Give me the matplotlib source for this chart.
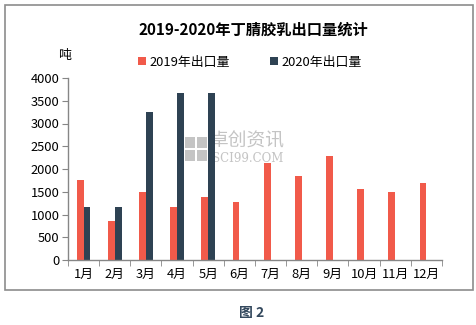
import matplotlib
matplotlib.use("Agg")
import matplotlib.pyplot as plt
from matplotlib.patches import Rectangle
import numpy as np

plt.rcParams['font.family'] = ['Noto Sans CJK SC', 'DejaVu Sans']

months = ["1月", "2月", "3月", "4月", "5月", "6月", "7月", "8月", "9月", "10月", "11月", "12月"]
export_2019 = [1760, 860, 1490, 1165, 1385, 1275, 2130, 1845, 2285, 1560, 1495, 1690]
export_2020 = [1170, 1170, 3250, 3670, 3670, np.nan, np.nan, np.nan, np.nan, np.nan, np.nan, np.nan]

red = "#F15A4A"
dark = "#2E4253"
gray = "#868686"

fig = plt.figure(figsize=(4.77, 3.25), dpi=100)
fig.patch.set_facecolor("white")

# outer frame
fig.patches.append(Rectangle((5 / 477, 1 - 290 / 325), 468 / 477, 285 / 325,
                             transform=fig.transFigure, fill=False,
                             edgecolor="#8C8C8C", linewidth=1.2))

ax = fig.add_axes([68 / 477, 1 - 260 / 325, 374 / 477, 182 / 325])
ax.patch.set_alpha(0)

x = np.arange(len(months))
w = 0.22
ax.bar(x - w / 2, export_2019, width=w, color=red, label="2019年出口量", zorder=2)
ax.bar(x + w / 2, export_2020, width=w, color=dark, label="2020年出口量", zorder=2)

ax.set_xlim(-0.5, len(months) - 0.5)
ax.set_ylim(0, 4000)
ax.set_yticks(range(0, 4001, 500))
ax.set_yticklabels([str(v) for v in range(0, 4001, 500)], fontsize=9.3)

ax.set_xticks(x)
ax.set_xticklabels(months, fontsize=9.3)
ax.tick_params(axis="x", length=0, pad=6)
ax.set_xticks(np.arange(-0.5, len(months)), minor=True)
ax.tick_params(axis="x", which="minor", length=4, color=gray, direction="out")
ax.tick_params(axis="y", length=4, color=gray, direction="out", pad=2)

for s in ["top", "right"]:
    ax.spines[s].set_visible(False)
for s in ["left", "bottom"]:
    ax.spines[s].set_color(gray)
    ax.spines[s].set_linewidth(1.0)

fig.text(253 / 477, 1 - 30 / 325, "2019-2020年丁腈胶乳出口量统计", ha="center", va="center",
         fontsize=11, fontweight="bold", color="black")
fig.text(64 / 477, 1 - 55 / 325, "吨", ha="center", va="center", fontsize=9.3)

ax.legend(loc="center", bbox_to_anchor=(0.487, 1 + 16 / 182), ncol=2, frameon=False,
          fontsize=9.3, handlelength=0.6, handleheight=0.6, handletextpad=0.3,
          columnspacing=3.1)

# watermark (behind bars)
wm = "#C4C4C4"
ax.text(210 / 477, 1 - 141 / 325, "卓创资讯", ha="left", va="center", fontsize=13.5,
        color=wm, transform=fig.transFigure, zorder=0.5)
ax.text(212 / 477, 1 - 158 / 325, "SCI99.COM", ha="left", va="center", fontsize=8.5,
        family="DejaVu Serif", color=wm, transform=fig.transFigure, zorder=0.5)
for (gx, gy) in [(185, 137), (197, 137), (185, 150), (197, 150)]:
    ax.add_patch(Rectangle((gx / 477, 1 - (gy + 11) / 325), 10 / 477, 11 / 325,
                           transform=fig.transFigure, facecolor=wm,
                           edgecolor="none", zorder=0.5))

fig.text(252 / 477, 1 - 313 / 325, "图 2", ha="center", va="center", fontsize=10,
         fontweight="bold", color="#34495E")

fig.savefig("out.png", dpi=100, facecolor="white")
